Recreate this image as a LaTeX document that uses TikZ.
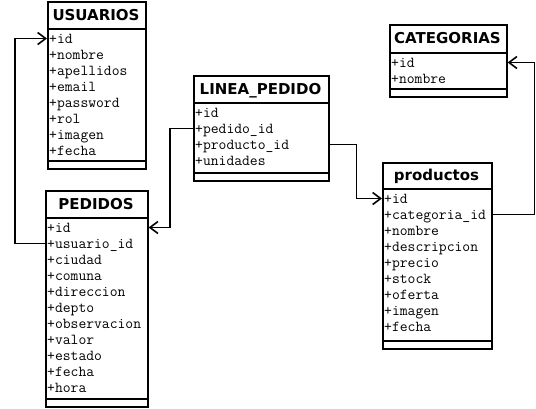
\documentclass[tikz,border=0pt]{standalone}
\usepackage{fontspec}
\setmainfont{DejaVu Sans}
\usetikzlibrary{arrows.meta}
\tikzset{
  boxline/.style={line width=1.6pt},
  titletext/.style={inner sep=0pt, font=\fontsize{15}{17}\selectfont\bfseries, text height=10.9pt, text depth=0pt},
  attrtext/.style={inner sep=0pt, anchor=west, font=\ttfamily\fontsize{15.2}{16}\selectfont, text height=9.5pt, text depth=0.5pt},
  conn/.style={line width=1.6pt, -{Straight Barb[length=8pt,width=12pt]}},
}
% #1 name, #2 left, #3 right, #4 top, #5 header bottom, #6 separator, #7 title, #8 rows
\newcommand{\umlclass}[8]{%
  \node[boxline, draw, inner sep=0pt, anchor=north west,
        minimum width={(#3-#2)*1pt}, minimum height={(#6+7-#4)*1pt}] (#1) at (#2,#4) {};
  \draw[boxline] (#2,#5) -- (#3,#5);
  \draw[boxline] (#2,#6) -- (#3,#6);
  \node[titletext] (#1-t) at ({(#2+#3)/2},{(#4+#5)/2}) {#7};
  \foreach \r [count=\i] in {#8} {
    \node[attrtext] (#1-\i) at ({#2+2},{#5+9.5+(\i-1)*16}) {+\r};
  }
}
\begin{document}
\begin{tikzpicture}[x=1pt,y=-1pt]
\useasboundingbox (0,0) rectangle (536,408);
\umlclass{usu}{47}{145}{1}{29}{161}{USUARIOS}{id,nombre,apellidos,email,password,rol,imagen,fecha}
\umlclass{ped}{45}{147}{190}{218}{399}{PEDIDOS}{id,usuario\_id,ciudad,comuna,direccion,depto,observacion,valor,estado,fecha,hora}
\umlclass{lin}{193}{328}{75}{103}{173}{LINEA\_PEDIDO}{id,pedido\_id,producto\_id,unidades}
\umlclass{cat}{389}{506}{24}{53}{89}{CATEGORIAS}{id,nombre}
\umlclass{pro}{382}{491}{162}{189}{341}{productos}{id,categoria\_id,nombre,descripcion,precio,stock,oferta,imagen,fecha}
\draw[conn] (ped-2 -| ped.west) -- ++(-30,0) |- (usu-1 -| usu.west);
\draw[conn] (lin-2 -| lin.west) -- ++(-23,0) |- (ped-1 -| ped.east);
\draw[conn] (lin-3 -| lin.east) -- ++(27,0) |- (pro-1 -| pro.west);
\draw[conn] (pro-2 -| pro.east) -- ++(42,0) |- (cat-1 -| cat.east);
\end{tikzpicture}
\end{document}
